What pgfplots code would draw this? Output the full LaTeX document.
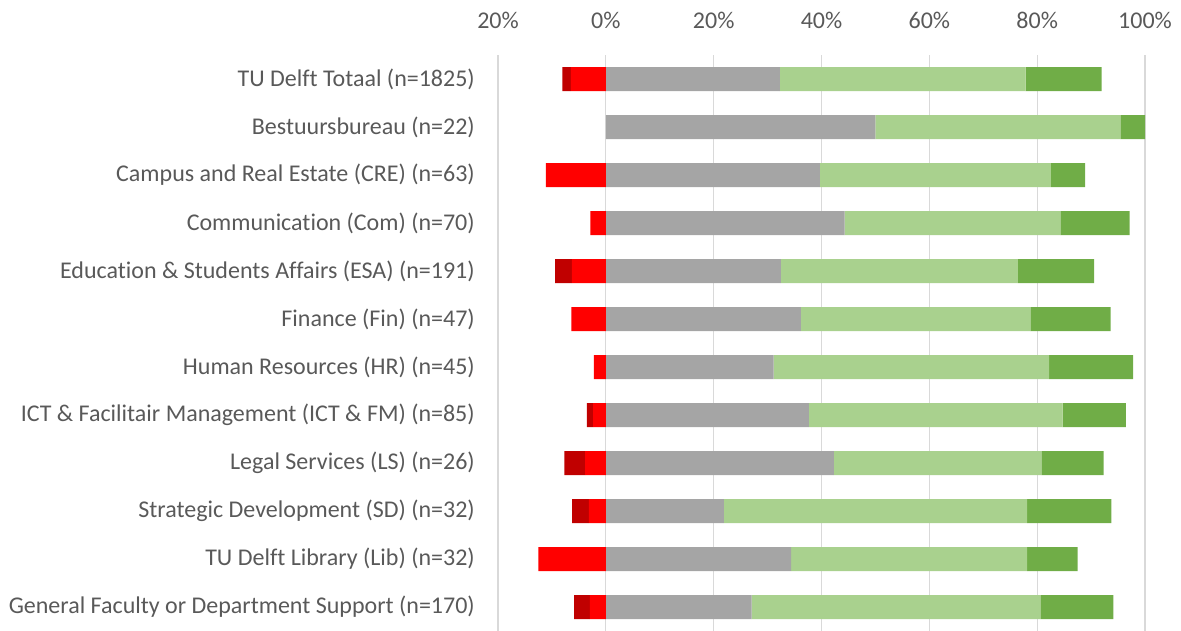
\documentclass[border=0pt]{standalone}
\usepackage{pgfplots}
\pgfplotsset{compat=1.18}
\usepackage{fontspec}
\setmainfont{Carlito}[Ligatures=NoCommon]
\definecolor{dred}{HTML}{C00000}
\definecolor{bred}{HTML}{FF0000}
\definecolor{bgray}{HTML}{A5A5A5}
\definecolor{lgreen}{HTML}{A9D18E}
\definecolor{dgreen}{HTML}{70AD47}
\definecolor{gridc}{HTML}{D9D9D9}
\definecolor{txt}{HTML}{595959}
\pgfplotsset{common/.style={
  at={(498pt,-1pt)}, anchor=south west,
  scale only axis, width=647pt, height=576pt,
  xbar stacked, bar width=24pt,
  xmin=-20, xmax=100, ymin=-0.5, ymax=11.5, y dir=reverse,
  axis line style={draw=none},
  major tick length=0pt,
  every axis plot/.append style={draw=none},
  clip=false,
}}
\begin{document}
\begin{tikzpicture}
\useasboundingbox (0,0) rectangle (1181pt,630pt);
\begin{axis}[
  common,
  xtick={-20,0,20,40,60,80,100},
  xticklabels={20\%,0\%,20\%,40\%,60\%,80\%,100\%},
  xticklabel pos=upper,
  ytick={0,...,11},
  yticklabels={
    TU Delft Totaal (n=1825),
    Bestuursbureau (n=22),
    Campus and Real Estate (CRE) (n=63),
    Communication (Com) (n=70),
    Education \& Students Affairs (ESA) (n=191),
    Finance (Fin) (n=47),
    Human Resources (HR) (n=45),
    ICT \& Facilitair Management (ICT \& FM) (n=85),
    Legal Services (LS) (n=26),
    Strategic Development (SD) (n=32),
    TU Delft Library (Lib) (n=32),
    General Faculty or Department Support (n=170)},
  xmajorgrids, ymajorgrids=false,
  grid style={color=gridc, line width=1.2pt},
  xticklabel style={font=\fontsize{24}{28}\selectfont, text=txt, anchor=base, inner sep=0pt, yshift=27pt},
  yticklabel style={font=\fontsize{24}{28}\selectfont, text=txt, anchor=east, inner sep=0pt, xshift=-23pt},
]
\addplot[fill=bgray] coordinates {
(32.27,0) (50.0,1) (39.68,2) (44.29,3) (32.46,4) (36.17,5) (31.11,6) (37.65,7) (42.31,8) (21.875,9) (34.375,10) (27.06,11)};
\addplot[fill=lgreen] coordinates {
(45.59,0) (45.45,1) (42.86,2) (40.0,3) (43.98,4) (42.55,5) (51.11,6) (47.06,7) (38.46,8) (56.25,9) (43.75,10) (53.53,11)};
\addplot[fill=dgreen] coordinates {
(14.08,0) (4.55,1) (6.35,2) (12.86,3) (14.14,4) (14.89,5) (15.56,6) (11.76,7) (11.54,8) (15.625,9) (9.375,10) (13.53,11)};
\end{axis}
\begin{axis}[
  common,
  xtick=\empty, ytick=\empty,
]
% negatives: red next to zero, dark red further out
\addplot[fill=bred] coordinates {
(-6.47,0) (0,1) (-11.11,2) (-2.86,3) (-6.28,4) (-6.38,5) (-2.22,6) (-2.35,7) (-3.85,8) (-3.125,9) (-12.5,10) (-2.94,11)};
\addplot[fill=dred] coordinates {
(-1.59,0) (0,1) (0,2) (0,3) (-3.14,4) (0,5) (0,6) (-1.18,7) (-3.85,8) (-3.125,9) (0,10) (-2.94,11)};
\end{axis}
\end{tikzpicture}
\end{document}
